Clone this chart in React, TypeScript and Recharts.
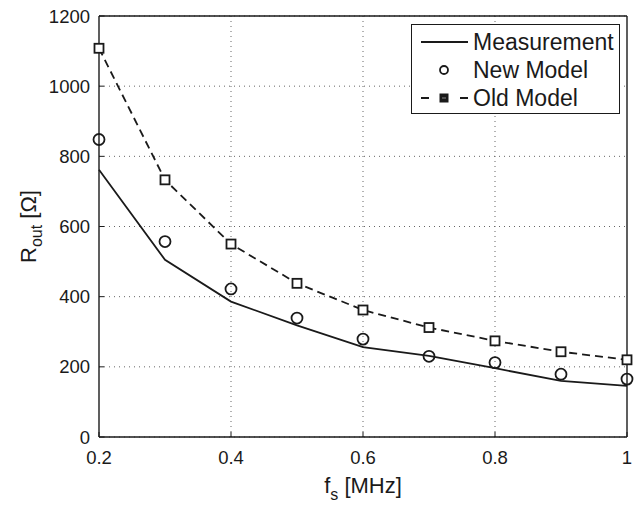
import {
  CartesianGrid,
  ComposedChart,
  Line,
  ReferenceLine,
  XAxis,
  YAxis,
} from "recharts";

const freqMHz = [0.2, 0.3, 0.4, 0.5, 0.6, 0.7, 0.8, 0.9, 1.0];
const measurement = [762, 505, 386, 318, 256, 231, 196, 160, 146];
const newModel = [848, 557, 422, 339, 279, 230, 212, 179, 165];
const oldModel = [1108, 733, 550, 438, 362, 312, 274, 243, 220];
const seriesNames = ["Measurement", "New Model", "Old Model"];
const xTicks = [0.2, 0.4, 0.6, 0.8, 1];
const yTicks = [0, 200, 400, 600, 800, 1000, 1200];

const data = freqMHz.map((f, i) => ({
  f,
  meas: measurement[i],
  newM: newModel[i],
  oldM: oldModel[i],
}));

const FONT = '"Liberation Sans", Arial, Helvetica, sans-serif';
const INK = "#1a1a1a";
const GRID = "#666";
const TICK_MARGIN_X = 12;
const TICK_MARGIN_Y = 9;
const TICK_LEN = 5;

function BottomTick(props: any) {
  const { x, y, payload } = props;
  const axisY = y - TICK_MARGIN_X;
  return (
    <g>
      <line x1={x} x2={x} y1={axisY} y2={axisY - TICK_LEN} stroke={INK} strokeWidth={1} />
      <text x={x} y={axisY + 27} textAnchor="middle" fontSize={18.5} fill={INK} fontFamily={FONT}>
        {payload.value}
      </text>
    </g>
  );
}

function LeftTick(props: any) {
  const { x, y, payload } = props;
  const axisX = x + TICK_MARGIN_Y;
  return (
    <g>
      <line x1={axisX} x2={axisX + TICK_LEN} y1={y} y2={y} stroke={INK} strokeWidth={1} />
      <text x={x} y={y + 6.5} textAnchor="end" fontSize={18.5} fill={INK} fontFamily={FONT}>
        {payload.value}
      </text>
    </g>
  );
}

function SquareDot(props: any) {
  const { cx, cy } = props;
  if (cx == null || cy == null) return null;
  return (
    <rect x={cx - 4.5} y={cy - 4.5} width={9} height={9} fill="#fff" stroke={INK} strokeWidth={1.8} />
  );
}

function CircleDot(props: any) {
  const { cx, cy } = props;
  if (cx == null || cy == null) return null;
  return <circle cx={cx} cy={cy} r={5.5} fill="none" stroke={INK} strokeWidth={1.8} />;
}

function LegendIcon({ idx }: { idx: number }) {
  if (idx === 0) {
    return (
      <svg width={52} height={28}>
        <line x1={3} x2={50} y1={14} y2={14} stroke={INK} strokeWidth={1.8} />
      </svg>
    );
  }
  if (idx === 1) {
    return (
      <svg width={52} height={28}>
        <circle cx={26} cy={14} r={4} fill="none" stroke={INK} strokeWidth={1.8} />
      </svg>
    );
  }
  return (
    <svg width={52} height={28}>
      <line x1={3} x2={50} y1={14} y2={14} stroke={INK} strokeWidth={1.8} strokeDasharray="8 31" />
      <rect x={22} y={10} width={8} height={8} fill={INK} stroke={INK} strokeWidth={1} />
      <line x1={24} x2={28} y1={14} y2={14} stroke="#888" strokeWidth={1} />
    </svg>
  );
}

function LegendBox() {
  return (
    <div
      style={{
        position: "absolute",
        left: 411,
        top: 24,
        width: 209,
        height: 90,
        border: `1.5px solid ${INK}`,
        background: "#fff",
        boxSizing: "border-box",
        padding: "3px 0 0 6px",
      }}
    >
      {seriesNames.map((name, i) => (
        <div key={name} style={{ display: "flex", alignItems: "center", height: 28 }}>
          <LegendIcon idx={i} />
          <span style={{ fontSize: 23, fontFamily: FONT, color: INK, marginLeft: 3 }}>{name}</span>
        </div>
      ))}
    </div>
  );
}

function XLabel(props: any) {
  const { viewBox } = props;
  const cx = viewBox.x + viewBox.width / 2;
  return (
    <text x={cx} y={493} textAnchor="middle" fontSize={22} fill={INK} fontFamily={FONT}>
      f
      <tspan fontSize={16} dy={7}>s</tspan>
      <tspan dy={-7}> [MHz]</tspan>
    </text>
  );
}

function YLabel(props: any) {
  const { viewBox } = props;
  const cy = viewBox.y + viewBox.height / 2;
  const cx = 36;
  return (
    <text
      x={cx}
      y={cy}
      transform={`rotate(-90 ${cx} ${cy})`}
      textAnchor="middle"
      fontSize={22}
      fill={INK}
      fontFamily={FONT}
    >
      R
      <tspan fontSize={16} dy={6}>out</tspan>
      <tspan dy={-6}> [Ω]</tspan>
    </text>
  );
}

export default function App() {
  const innerX = xTicks.slice(1, -1);
  return (
    <div style={{ position: "absolute", left: 0, top: 0, width: 639, height: 509, background: "#fff" }}>
      <ComposedChart
        width={639}
        height={509}
        data={data}
        margin={{ top: 16, right: 12, bottom: 0, left: 0 }}
      >
        <CartesianGrid vertical={false} stroke={GRID} strokeDasharray="1 4" strokeWidth={1} />
        <XAxis
          dataKey="f"
          type="number"
          domain={[0.2, 1]}
          ticks={xTicks}
          height={72}
          tickSize={0}
          tickMargin={TICK_MARGIN_X}
          tickLine={false}
          axisLine={{ stroke: INK, strokeWidth: 1.4 }}
          tick={<BottomTick />}
          interval={0}
          label={<XLabel />}
        />
        <YAxis
          type="number"
          domain={[0, 1200]}
          ticks={yTicks}
          width={99}
          tickSize={0}
          tickMargin={TICK_MARGIN_Y}
          tickLine={false}
          axisLine={{ stroke: INK, strokeWidth: 1.4 }}
          tick={<LeftTick />}
          interval={0}
          label={<YLabel />}
        />
        {innerX.map((t) => (
          <ReferenceLine key={`vx${t}`} x={t} stroke={GRID} strokeWidth={1} strokeDasharray="1 4" />
        ))}
        <ReferenceLine x={1} stroke={INK} strokeWidth={1.4} />
        <ReferenceLine y={1200} stroke={INK} strokeWidth={1.4} />
        <Line
          dataKey="meas"
          name={seriesNames[0]}
          type="linear"
          stroke={INK}
          strokeWidth={1.8}
          dot={false}
          isAnimationActive={false}
        />
        <Line
          dataKey="oldM"
          name={seriesNames[2]}
          type="linear"
          stroke={INK}
          strokeWidth={1.8}
          strokeDasharray="8 5"
          dot={<SquareDot />}
          isAnimationActive={false}
        />
        <Line
          dataKey="newM"
          name={seriesNames[1]}
          type="linear"
          stroke="none"
          strokeWidth={0}
          dot={<CircleDot />}
          isAnimationActive={false}
        />
      </ComposedChart>
      <LegendBox />
    </div>
  );
}
